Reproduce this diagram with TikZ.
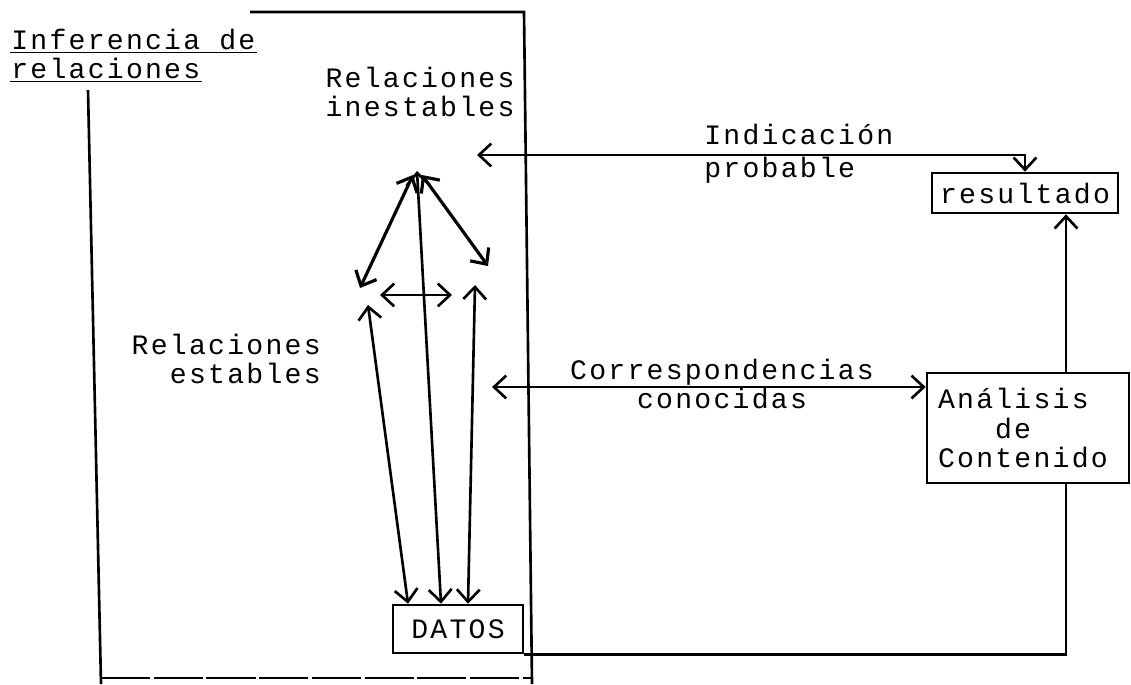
\documentclass[tikz,border=0pt]{standalone}
\usepackage{fontspec}
\usepackage{tikz}
\usetikzlibrary{arrows.meta}
\newfontfamily\maquina[LetterSpace=8]{Liberation Mono}

\begin{document}
\begin{tikzpicture}[x=0.02cm, y=-0.02cm, line width=1.5pt,
    every node/.style={font=\maquina\fontsize{16pt}{17pt}\selectfont, inner sep=0pt},
    caja/.style={draw, line width=1.5pt},
    flecha/.style={-{Straight Barb[length=7pt,width=13pt]}},
    doble/.style={{Straight Barb[length=7pt,width=13pt]}-{Straight Barb[length=7pt,width=13pt]}}]
        \useasboundingbox (0,0) rectangle (1131,684);
        \node[anchor=base west] (inferencia) at (10,49) {Inferencia de};
        \node[anchor=base west] (relaciones) at (10,78) {relaciones};
        \draw[line width=1pt] ([yshift=-2pt]inferencia.base west) -- ([yshift=-2pt]inferencia.base east);
        \draw[line width=1pt] ([yshift=-2pt]relaciones.base west) -- ([yshift=-2pt]relaciones.base east);
        \draw (250,12) -- (524,12) -- (532,684);
        \draw (88,90) -- (101,684);
        \draw[dash pattern=on 28pt off 2pt] (101,678) -- (532,678);
        \node[align=center] (inestables) at (420,92) {Relaciones\\[-0.5pt]inestables};
        \node[align=right, anchor=east] (estables) at (322,359) {Relaciones\\estables};
        \node[align=left, anchor=west] (indicacion) at (703,154) {Indicación\\[2pt]probable};
        \node[align=center] (correspondencias) at (722,384) {Correspondencias\\conocidas};
        \node[caja, minimum width=2.6cm, minimum height=0.96cm] (datos) at (458,629) {DATOS};
        \node[caja, minimum width=3.72cm, minimum height=0.8cm] (resultado) at (1025,193) {resultado};
        \node[caja, minimum width=4.04cm, minimum height=2.2cm, text width=3.6cm, align=left] (analisis) at (1028,428) {Análisis\\\hspace*{1.14cm}de\\Contenido};
        \coordinate (apice) at (417,171);
        \coordinate (izq) at (360,288);
        \coordinate (der) at (488,266);
        \coordinate (hizq) at (380,295);
        \coordinate (hder) at (452,295);
        \coordinate (bizq) at (368,305);
        \coordinate (bder) at (475,285);
        \coordinate (indic) at (477,155);
        \coordinate (corr) at (492,387);
        \coordinate (eje) at (1066,0);
        \draw[doble, line width=1.8pt] ([shift={(-4,4)}]apice) -- (izq);
        \draw[doble, line width=1.8pt] ([shift={(5,4)}]apice) -- (der);
        \draw[doble] (hizq) -- (hder);
        \draw[doble] (apice) -- ([xshift=-0.34cm]datos.north);
        \draw[doble] (bizq) -- ([xshift=-1cm]datos.north);
        \draw[doble] (bder) -- ([xshift=0.2cm]datos.north);
        \draw[doble] (indic) -| (resultado.north);
        \draw[doble] (corr) -- (corr -| analisis.west);
        \draw[flecha] (eje |- analisis.north) -- (eje |- resultado.south);
        \draw (datos.south east) -- (datos.south east -| eje) -- (eje |- analisis.south);
    \end{tikzpicture}
\end{document}
